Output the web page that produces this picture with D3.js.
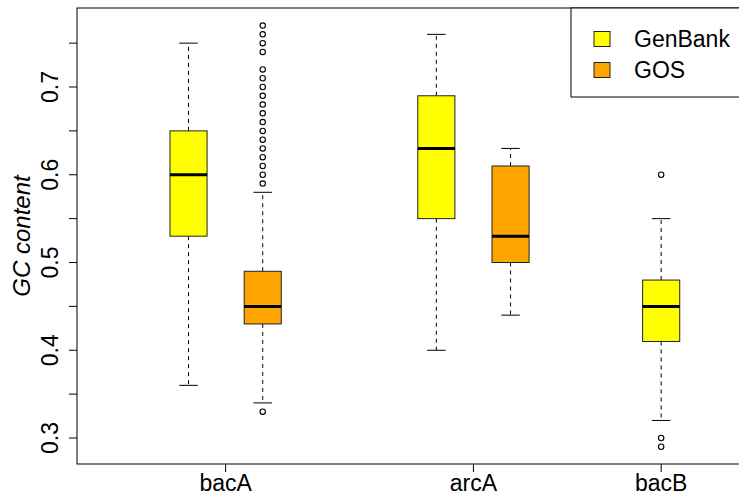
<!DOCTYPE html>
<html>
<head>
<meta charset="utf-8">
<script src="https://cdn.jsdelivr.net/npm/d3@7"></script>
<style>
  body { margin: 0; background: #fff; }
  svg { display: block; }
  text { font-family: "Liberation Sans", Arial, sans-serif; }
</style>
</head>
<body>
<svg id="chart" width="739" height="495"></svg>
<script>
// ---------- data ----------
const groups = ["bacA", "arcA", "bacB"];
const seriesNames = ["GenBank", "GOS"];
const seriesColors = ["#FFFF00", "#FFA500"];
// five-number summaries [lower whisker, Q1, median, Q3, upper whisker]
const genbankStats = [
  [0.36, 0.53, 0.60, 0.65, 0.75],
  [0.40, 0.55, 0.63, 0.69, 0.76],
  [0.32, 0.41, 0.45, 0.48, 0.55]
];
const gosStats = [
  [0.34, 0.43, 0.45, 0.49, 0.58],
  [0.44, 0.50, 0.53, 0.61, 0.63],
  null
];
const genbankOutliers = [
  [],
  [],
  [0.60, 0.30, 0.29]
];
const gosOutliers = [
  [0.77, 0.76, 0.75, 0.74, 0.72, 0.71, 0.70, 0.69, 0.68, 0.67, 0.66, 0.65,
   0.64, 0.63, 0.62, 0.61, 0.60, 0.59, 0.33],
  [],
  []
];
const yTicks = [0.3, 0.4, 0.5, 0.6, 0.7];
const yMinorTicks = [0.35, 0.45, 0.55, 0.65, 0.75];

// ---------- layout (positions in slot units) ----------
const slotPos = { bacA: [1, 2], arcA: [4.34, 5.34], bacB: [7.37, null] };
const groupTickPos = { bacA: 1.5, arcA: 4.84, bacB: 7.37 };
const boxW = 0.5;

const svg = d3.select("#chart");
const plotL = 77, plotT = 8, plotB = 464, plotR = 760;

const x = d3.scaleLinear().domain([-0.503, 8.702]).range([plotL, plotR]);
const y = d3.scaleLinear().domain([0.3, 0.7]).range([438, 87]);

// build box records from arrays
const boxes = [];
groups.forEach((g, gi) => {
  [genbankStats, gosStats].forEach((stats, si) => {
    const s = stats[gi];
    if (!s) return;
    boxes.push({
      group: g, series: si, pos: slotPos[g][si], stats: s,
      outliers: (si === 0 ? genbankOutliers : gosOutliers)[gi]
    });
  });
});

const gBoxes = svg.append("g");
boxes.forEach(b => {
  const [lo, q1, med, q3, hi] = b.stats;
  const cx = x(b.pos);
  const hw = x(b.pos + boxW / 2) - cx;
  const g = gBoxes.append("g");
  // whiskers (dashed)
  g.append("line").attr("x1", cx).attr("x2", cx).attr("y1", y(q3)).attr("y2", y(hi))
    .attr("stroke", "#000").attr("stroke-dasharray", "4,4");
  g.append("line").attr("x1", cx).attr("x2", cx).attr("y1", y(q1)).attr("y2", y(lo))
    .attr("stroke", "#000").attr("stroke-dasharray", "4,4");
  // caps
  [lo, hi].forEach(v => {
    g.append("line").attr("x1", cx - hw / 2).attr("x2", cx + hw / 2)
      .attr("y1", y(v)).attr("y2", y(v)).attr("stroke", "#000");
  });
  // box
  g.append("rect").attr("x", cx - hw).attr("width", 2 * hw)
    .attr("y", y(q3)).attr("height", y(q1) - y(q3))
    .attr("fill", seriesColors[b.series]).attr("stroke", "#222").attr("stroke-width", 1);
  // median
  g.append("line").attr("x1", cx - hw).attr("x2", cx + hw)
    .attr("y1", y(med)).attr("y2", y(med)).attr("stroke", "#000").attr("stroke-width", 3);
  // outliers
  g.selectAll("circle").data(b.outliers).join("circle")
    .attr("cx", cx).attr("cy", d => y(d)).attr("r", 2.7)
    .attr("fill", "none").attr("stroke", "#000").attr("stroke-width", 1.1);
});

// frame
svg.append("rect").attr("x", plotL).attr("y", plotT)
  .attr("width", plotR - plotL).attr("height", plotB - plotT)
  .attr("fill", "none").attr("stroke", "#000").attr("stroke-width", 1);

// y axis
const yAxis = svg.append("g");
yTicks.concat(yMinorTicks).forEach(v => {
  yAxis.append("line").attr("x1", plotL - 8).attr("x2", plotL)
    .attr("y1", y(v)).attr("y2", y(v)).attr("stroke", "#000");
});
yTicks.forEach(v => {
  yAxis.append("text")
    .attr("transform", `translate(58,${y(v)}) rotate(-90)`)
    .attr("text-anchor", "middle")
    .attr("font-size", 23)
    .text(d3.format(".1f")(v));
});
svg.append("text")
  .attr("transform", `translate(30,${(plotT + plotB) / 2}) rotate(-90)`)
  .attr("text-anchor", "middle")
  .attr("font-size", 24)
  .attr("font-style", "italic")
  .text("GC content");

// x axis ticks
groups.forEach(g => {
  const px = x(groupTickPos[g]);
  svg.append("line").attr("x1", px).attr("x2", px).attr("y1", plotB).attr("y2", plotB + 8)
    .attr("stroke", "#000");
  svg.append("text").attr("x", px).attr("y", 491)
    .attr("text-anchor", "middle").attr("font-size", 23).text(g);
});

// legend
const leg = svg.append("g");
leg.append("rect").attr("x", 571).attr("y", plotT).attr("width", 220).attr("height", 89)
  .attr("fill", "#fff").attr("stroke", "#000");
seriesNames.forEach((name, i) => {
  const cy = 39 + i * 31;
  leg.append("rect").attr("x", 594).attr("y", cy - 7.5).attr("width", 16).attr("height", 15)
    .attr("fill", seriesColors[i]).attr("stroke", "#222");
  leg.append("text").attr("x", 634).attr("y", cy).attr("dy", "0.36em")
    .attr("font-size", 23).text(name);
});
</script>
</body>
</html>
